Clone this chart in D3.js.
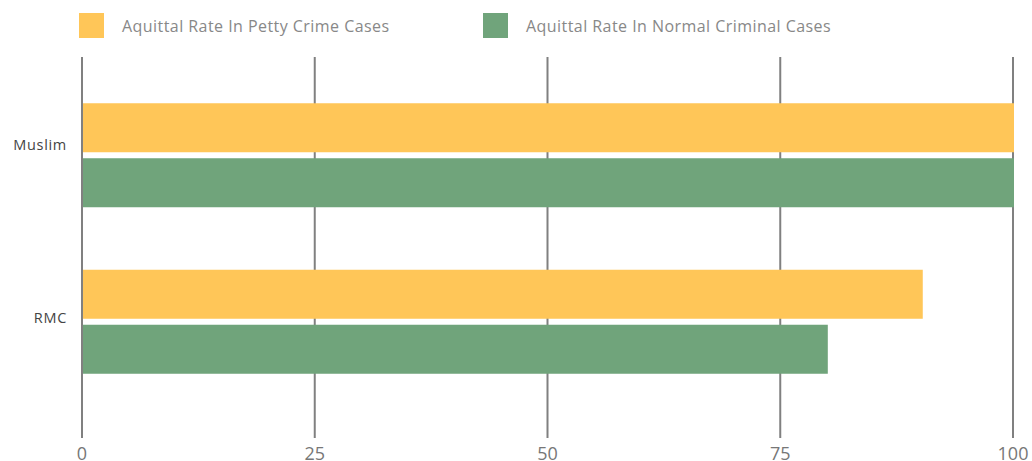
<!DOCTYPE html>
<html>
<head>
<meta charset="utf-8">
<script src="https://cdn.jsdelivr.net/npm/d3@7"></script>
<style>
  body { margin: 0; background: #fff; }
  svg { display: block; }
</style>
</head>
<body>
<svg width="1032" height="461"></svg>
<script>
// data
var categories = ["Muslim", "RMC"];
var seriesNames = ["Aquittal Rate In Petty Crime Cases", "Aquittal Rate In Normal Criminal Cases"];
var pettyValues = [100, 90.2];
var normalValues = [100, 80];
var xTicks = [0, 25, 50, 75, 100];
var colors = ["#ffc658", "#70a47b"];

var svg = d3.select("svg");

// scales
var x = d3.scaleLinear().domain([0, 100]).range([82, 1013]);
var y = d3.scaleBand().domain(categories).range([72, 405]);
var ySub = d3.scaleBand().domain([0, 1]).range([0, 104]).paddingInner(0.109);
var yLabel = d3.scalePoint().domain(categories).range([145, 318]);

// grid lines
svg.append("g")
    .selectAll("line")
    .data(xTicks).enter()
    .append("line")
    .attr("x1", d => x(d)).attr("x2", d => x(d))
    .attr("y1", 57).attr("y2", 438)
    .attr("stroke", "#808080")
    .attr("stroke-width", 2);

// bars
var rows = categories.map((c, i) => ({cat: c, vals: [pettyValues[i], normalValues[i]]}));
var groups = svg.append("g")
    .selectAll("g")
    .data(rows).enter()
    .append("g")
    .attr("transform", d => "translate(0," + (y(d.cat) + y.bandwidth() / 2 - 52) + ")");

groups.selectAll("rect")
    .data(d => d.vals.map((v, i) => ({v: v, i: i})))
    .enter()
    .append("rect")
    .attr("x", x(0) + 1)
    .attr("y", d => ySub(d.i))
    .attr("width", d => x(d.v) - x(0))
    .attr("height", ySub.bandwidth())
    .attr("fill", d => colors[d.i]);

// category labels
svg.append("g")
    .selectAll("text")
    .data(categories).enter()
    .append("text")
    .attr("x", 67)
    .attr("y", d => yLabel(d))
    .attr("dy", "0.35em")
    .attr("text-anchor", "end")
    .attr("font-family", "'Open Sans', sans-serif")
    .attr("font-size", 14.5)
    .attr("letter-spacing", 0.7)
    .attr("fill", "#444")
    .text(d => d);

// x tick labels
svg.append("g")
    .selectAll("text")
    .data(xTicks).enter()
    .append("text")
    .attr("x", d => x(d))
    .attr("y", 460)
    .attr("text-anchor", "middle")
    .attr("font-family", "'Open Sans', sans-serif")
    .attr("font-size", 18)
    .attr("fill", "#777")
    .text(d => d);

// legend
var legendX = [79, 483];
var legend = svg.append("g")
    .selectAll("g")
    .data(seriesNames).enter()
    .append("g")
    .attr("transform", (d, i) => "translate(" + legendX[i] + ",13)");

legend.append("rect")
    .attr("width", 25).attr("height", 25)
    .attr("fill", (d, i) => colors[i]);

legend.append("text")
    .attr("x", 43)
    .attr("y", 13)
    .attr("dy", "0.35em")
    .attr("font-family", "'Open Sans', sans-serif")
    .attr("font-size", 16)
    .attr("letter-spacing", 0.45)
    .attr("fill", "#888")
    .text(d => d);
</script>
</body>
</html>
